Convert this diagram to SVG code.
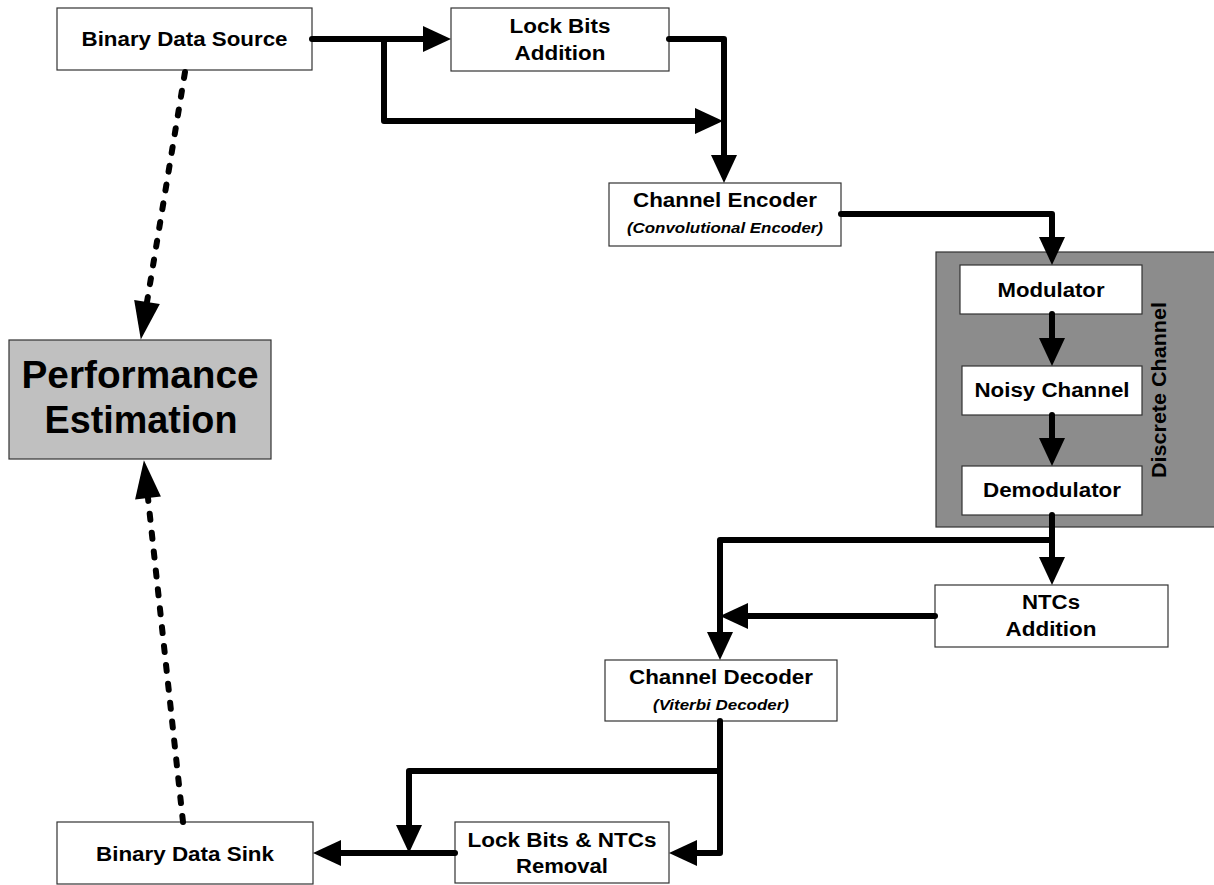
<svg xmlns="http://www.w3.org/2000/svg" width="1214" height="885" viewBox="0 0 1214 885">
<style>
.box{fill:#ffffff;stroke:#333333;stroke-width:1.2}
.t{font-family:"Liberation Sans",Arial,sans-serif;font-weight:bold;font-size:20px;fill:#000;text-anchor:middle}
.it{font-family:"Liberation Sans",Arial,sans-serif;font-weight:bold;font-style:italic;font-size:15px;fill:#000;text-anchor:middle}
.big{font-family:"Liberation Sans",Arial,sans-serif;font-weight:bold;font-size:38px;fill:#000;text-anchor:middle}
.ln{fill:none;stroke:#000;stroke-width:6;stroke-linecap:round;stroke-linejoin:round;marker-end:url(#ah)}
.dl{fill:none;stroke:#000;stroke-width:6;stroke-linecap:round;stroke-dasharray:6 13;marker-end:url(#dh)}
</style>
<defs>
<marker id="ah" markerUnits="userSpaceOnUse" markerWidth="30" markerHeight="28" refX="0" refY="13" orient="auto" overflow="visible">
<path d="M0,0 L28,13 L0,26 Z" fill="#000"/>
</marker>
<marker id="dh" markerUnits="userSpaceOnUse" markerWidth="40" markerHeight="28" refX="0" refY="13" orient="auto" overflow="visible">
<path d="M0,0 L38,13 L0,26 Z" fill="#000"/>
</marker>
</defs>

<g id="discrete-channel">
<rect x="936" y="252" width="282" height="275" fill="#8c8c8c" stroke="#333" stroke-width="1.2"/>
<text class="t" transform="translate(1166,390) rotate(-90)" textLength="176" lengthAdjust="spacingAndGlyphs">Discrete Channel</text>
</g>

<g id="source">
<rect class="box" x="57" y="8" width="255" height="62"/>
<text class="t" x="184.5" y="46" textLength="206" lengthAdjust="spacingAndGlyphs">Binary Data Source</text>
</g>
<g id="lockbits-add">
<rect class="box" x="451" y="8" width="218" height="63"/>
<text class="t" x="560" y="33" textLength="101" lengthAdjust="spacingAndGlyphs">Lock Bits</text>
<text class="t" x="560" y="60" textLength="91" lengthAdjust="spacingAndGlyphs">Addition</text>
</g>
<g id="encoder">
<rect class="box" x="609" y="183" width="232" height="63"/>
<text class="t" x="725" y="207" textLength="184" lengthAdjust="spacingAndGlyphs">Channel Encoder</text>
<text class="it" x="725" y="233" textLength="196" lengthAdjust="spacingAndGlyphs">(Convolutional Encoder)</text>
</g>
<g id="modulator">
<rect class="box" x="960" y="265" width="182" height="49"/>
<text class="t" x="1051" y="297" textLength="107" lengthAdjust="spacingAndGlyphs">Modulator</text>
</g>
<g id="noisy">
<rect class="box" x="962" y="366" width="180" height="49"/>
<text class="t" x="1052" y="397" textLength="155" lengthAdjust="spacingAndGlyphs">Noisy Channel</text>
</g>
<g id="demodulator">
<rect class="box" x="962" y="466" width="180" height="49"/>
<text class="t" x="1052" y="497" textLength="138" lengthAdjust="spacingAndGlyphs">Demodulator</text>
</g>
<g id="ntcs-add">
<rect class="box" x="935" y="585" width="233" height="62"/>
<text class="t" x="1051" y="609" textLength="58" lengthAdjust="spacingAndGlyphs">NTCs</text>
<text class="t" x="1051" y="636" textLength="91" lengthAdjust="spacingAndGlyphs">Addition</text>
</g>
<g id="decoder">
<rect class="box" x="605" y="660" width="232" height="61"/>
<text class="t" x="721" y="684" textLength="184" lengthAdjust="spacingAndGlyphs">Channel Decoder</text>
<text class="it" x="721" y="710" textLength="136" lengthAdjust="spacingAndGlyphs">(Viterbi Decoder)</text>
</g>
<g id="removal">
<rect class="box" x="455" y="822" width="214" height="61"/>
<text class="t" x="562" y="847" textLength="189" lengthAdjust="spacingAndGlyphs">Lock Bits &amp; NTCs</text>
<text class="t" x="562" y="873" textLength="92" lengthAdjust="spacingAndGlyphs">Removal</text>
</g>
<g id="sink">
<rect class="box" x="57" y="822" width="256" height="62"/>
<text class="t" x="185" y="861" textLength="178" lengthAdjust="spacingAndGlyphs">Binary Data Sink</text>
</g>
<g id="performance">
<rect x="9" y="340" width="262" height="119" fill="#c0c0c0" stroke="#333" stroke-width="1.2"/>
<text class="big" x="140" y="388" textLength="237" lengthAdjust="spacingAndGlyphs">Performance</text>
<text class="big" x="141" y="433" textLength="193" lengthAdjust="spacingAndGlyphs">Estimation</text>
</g>

<g id="connectors">
<path class="ln" d="M312,39 H423"/>
<path class="ln" d="M384,39 V121 H695"/>
<path class="ln" d="M669,39 H724 V155"/>
<path class="ln" d="M841,214 H1052 V237"/>
<path class="ln" d="M1052,314 V338"/>
<path class="ln" d="M1052,415 V438"/>
<path class="ln" d="M1052,515 V557"/>
<path class="ln" d="M1052,540 H720 V632"/>
<path class="ln" d="M935,616 H748"/>
<path class="ln" d="M720,721 V853 H697"/>
<path class="ln" d="M720,771 H409 V825"/>
<path class="ln" d="M455,853 H341"/>
<path class="dl" d="M185,72 L147,302"/>
<path class="dl" d="M183,822 L148,498"/>
</g>
</svg>
